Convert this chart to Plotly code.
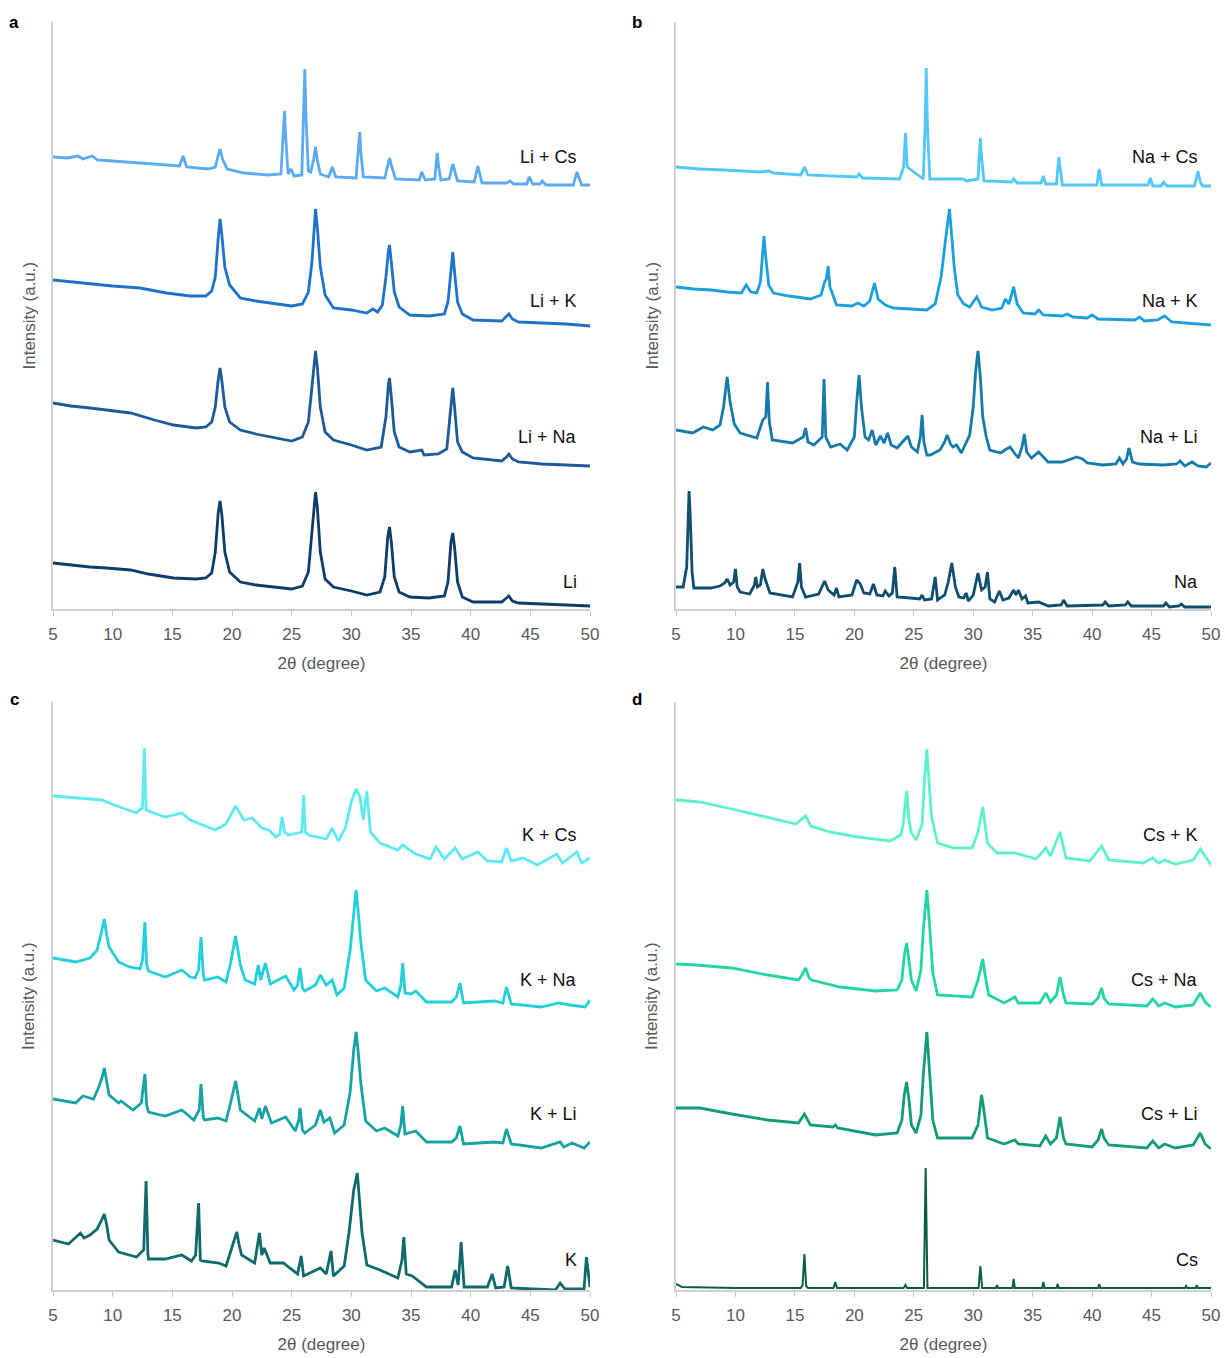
import plotly.graph_objects as go

W, H = 1225, 1358

# ---------------- Panel a (Li series) ----------------
a_licS_x = [5.0,6.2,7.1,7.5,8.3,8.7,10.0,12.0,14.0,15.6,15.9,16.2,18.0,18.6,18.85,19.0,19.2,19.6,21.0,23.0,24.1,24.3,24.4,24.5,24.7,24.95,25.2,25.85,26.0,26.1,26.2,26.4,26.6,26.85,27.0,27.15,27.4,28.1,28.4,28.7,30.4,30.6,30.7,30.8,31.0,32.8,33.05,33.2,33.4,33.7,35.7,35.9,36.2,37.0,37.1,37.2,37.3,37.5,38.2,38.5,38.9,40.3,40.6,40.95,43.0,43.3,43.6,44.7,44.9,45.2,45.8,46.0,46.3,48.6,48.9,49.3,50.0]
a_licS_y = [450,449,451,448,451,447,446,444,442,441,451,440,438,440,452,458,448,438,434,432,433,470,496,470,433,438,431,432,490,538,490,436,435,448,460,447,433,430,440,430,429,455,475,455,430,429,440,449,440,428,427,435,427,428,442,454,442,427,428,443,426,425,441,424,424,426,423,423,430,423,423,426,422,422,435,422,422]

a_lik_x = [5.0,6.5,8.0,10.0,12.3,14.5,16.5,17.8,18.3,18.6,18.85,19.0,19.15,19.4,19.8,20.7,22.0,23.4,25.0,25.9,26.4,26.7,26.9,27.0,27.15,27.4,27.8,28.5,30.0,31.3,31.8,32.2,32.6,32.9,33.1,33.2,33.35,33.6,34.0,34.9,36.5,37.8,38.1,38.35,38.5,38.65,38.9,39.3,40.2,42.6,43.0,43.2,43.5,44.0,46.0,48.0,50.0]
a_lik_y = [327,325,323,321,319,314,311,311,316,330,370,388,372,340,322,309,306,304,301,303,315,345,385,398,380,340,312,299,297,294,298,295,302,330,355,362,345,315,300,292,291,293,305,340,355,335,305,293,287,286,291,293,288,285,284,283,281]

a_lina_x = [5.0,6.5,8.1,9.5,11.5,13.5,15.1,17.0,17.8,18.3,18.6,18.85,19.0,19.15,19.4,19.8,20.7,22.0,23.4,25.0,25.9,26.4,26.7,26.9,27.0,27.15,27.4,27.8,28.5,30.0,31.3,32.5,32.9,33.1,33.2,33.35,33.6,34.0,34.9,35.9,36.1,37.3,38.0,38.3,38.5,38.65,38.9,39.3,40.2,42.6,43.0,43.2,43.5,44.0,46.0,48.0,50.0]
a_lina_y = [204,201,199,197,194,187,182,179,180,185,200,228,239,226,200,185,177,173,170,166,170,185,220,250,256,240,200,175,167,162,157,160,190,222,229,210,175,160,155,157,152,153,158,195,219,200,165,155,149,146,150,153,148,145,143,142,141]

a_li_x = [5.0,6.5,8.1,9.5,11.5,13.0,15.1,17.0,17.8,18.3,18.6,18.85,19.0,19.15,19.4,19.8,20.7,22.0,23.4,25.0,25.9,26.4,26.7,26.9,27.0,27.15,27.4,27.8,28.5,30.0,31.3,32.4,32.8,33.05,33.2,33.35,33.6,34.0,34.9,36.5,37.8,38.1,38.35,38.5,38.65,38.9,39.3,40.2,42.6,43.0,43.2,43.5,44.0,46.0,48.0,50.0]
a_li_y = [44,42,40,39,37,33,29,28,29,34,55,95,106,92,55,35,25,22,20,18,21,35,75,108,115,100,55,28,20,16,12,15,30,70,80,65,30,15,10,9,11,25,65,74,60,25,10,5,5,9,11,6,4,3,2,1]

# ---------------- Panel b (Na series) ----------------
b_nacs_x = [5.0,7.0,9.0,12.1,12.8,13.2,15.5,15.8,16.1,18.0,20.2,20.4,20.7,23.8,24.15,24.3,24.45,25.8,25.95,26.05,26.15,26.35,29.2,29.4,30.4,30.5,30.6,30.7,30.9,33.2,33.4,33.7,35.7,35.9,36.1,37.0,37.1,37.2,37.3,37.5,40.4,40.6,40.8,44.7,44.9,45.1,45.8,46.0,46.3,48.6,48.8,48.9,49.1,49.3,50.0]
b_nacs_y = [440,438,437,435,436,434,432,440,432,431,430,433,429,428,440,474,440,428,480,539,480,428,428,426,428,450,469,450,426,425,428,424,424,431,423,423,440,450,440,422,422,438,422,422,429,421,421,425,421,421,430,436,425,421,421]

b_nak_x = [5.0,6.5,8.0,9.3,10.5,10.9,11.3,11.8,12.1,12.3,12.4,12.55,12.8,13.2,14.5,16.3,17.2,17.5,17.65,17.8,17.95,18.5,19.8,20.3,20.5,20.8,21.3,21.7,22.0,22.6,23.3,25.0,26.1,26.8,27.3,27.7,28.0,28.2,28.4,28.7,29.2,29.7,30.3,30.7,31.6,32.4,32.7,33.0,33.4,33.7,34.2,35.2,35.5,35.9,37.5,37.9,38.4,39.6,40.0,40.5,43.6,44.0,44.4,45.5,46.1,46.7,48.5,50.0]
b_nak_y = [320,318,317,315,314,322,315,314,325,360,371,350,322,314,311,308,312,325,328,341,320,302,301,304,303,301,306,324,308,302,299,298,297,303,330,370,398,370,340,312,303,300,310,300,297,299,308,303,320,303,294,293,297,292,291,293,290,289,292,288,287,290,286,287,291,285,283,282]

b_nali_x = [5.0,6.4,7.3,8.1,8.7,9.0,9.3,9.55,9.9,10.4,11.8,12.3,12.55,12.7,12.85,13.1,14.8,15.7,15.9,16.1,16.6,17.3,17.45,17.6,18.0,18.8,19.4,20.0,20.2,20.4,20.6,20.9,21.2,21.5,21.8,22.2,22.5,22.8,23.1,23.6,24.5,24.8,25.3,25.55,25.7,25.85,26.1,26.4,27.2,27.6,27.8,28.1,28.3,28.6,29.0,29.7,30.0,30.2,30.4,30.6,30.8,31.1,31.4,32.3,32.8,33.1,33.4,33.8,34.1,34.3,34.5,34.9,35.5,36.3,37.5,38.7,39.2,39.6,40.9,42.0,42.3,42.6,42.9,43.1,43.4,44.0,46.0,47.1,47.4,47.8,48.4,48.9,49.6,50.0]
b_nali_y = [177,174,180,177,182,200,230,205,183,174,169,187,190,225,185,167,164,170,179,165,162,170,228,170,160,163,157,170,205,232,200,170,167,177,162,171,164,174,162,159,171,160,155,170,192,165,152,152,157,165,172,163,160,162,154,172,200,235,256,230,190,170,157,154,158,160,155,149,160,173,155,149,155,145,145,150,148,144,142,143,149,143,148,159,145,143,142,143,146,141,145,141,140,144]

b_na_x = [5.0,5.6,5.9,6.05,6.1,6.2,6.35,6.5,7.9,8.7,9.1,9.3,9.55,9.85,10.0,10.15,10.4,11.2,11.6,11.7,11.85,12.1,12.3,12.5,12.9,14.8,15.25,15.4,15.55,15.9,17.0,17.5,17.8,18.3,18.5,18.7,19.8,20.2,20.5,20.8,21.3,21.6,21.9,22.4,22.6,22.9,23.2,23.4,23.6,24.7,25.5,25.7,25.9,26.5,26.8,27.0,27.6,27.9,28.2,28.5,28.8,29.2,29.4,29.6,30.0,30.4,30.7,31.0,31.2,31.4,31.8,32.2,32.5,33.0,33.4,33.6,33.8,34.1,34.4,34.6,35.5,36.3,37.4,37.6,37.9,40.9,41.1,41.4,42.8,43.0,43.3,46.0,46.2,46.5,47.3,47.5,47.8,50.0]
b_na_y = [20,20,40,100,116,90,35,19,19,21,24,28,22,25,38,20,15,13,22,30,20,22,38,28,14,10,25,44,20,10,13,26,17,12,19,10,12,27,23,14,13,23,12,11,16,11,14,40,10,9,8,12,7,8,30,7,12,25,44,20,10,9,14,6,12,34,17,20,35,8,5,16,7,9,17,12,17,8,11,4,5,1,2,7,1,2,5,1,2,5,1,1,4,0,1,3,0,0]

# ---------------- Panel c (K series) ----------------
c_kcs_x = [5.0,6.9,9.1,9.9,12.0,12.35,12.5,12.65,12.8,13.0,14.4,15.8,16.5,18.6,19.5,20.3,21.0,21.7,22.5,23.1,23.7,24.0,24.2,24.4,24.7,25.6,25.85,26.0,26.15,26.4,27.9,28.4,28.9,29.5,30.0,30.4,30.7,31.0,31.3,31.6,32.4,33.9,34.3,35.4,36.6,37.1,37.8,38.7,39.3,40.6,41.4,42.6,43.0,43.4,44.4,45.6,47.2,47.7,48.9,49.3,50.0]
c_kcs_y = [494,492,490,486,477,481,482,542,480,479,473,477,470,460,466,484,470,472,462,460,453,456,473,458,455,457,458,495,458,455,451,462,449,462,488,501,494,470,499,458,447,440,445,436,431,443,431,442,431,438,429,428,442,429,432,425,436,427,438,427,432]

c_kna_x = [5.0,6.9,8.1,8.7,9.0,9.3,9.5,9.7,10.5,11.4,12.3,12.5,12.7,12.85,13.0,14.4,15.8,16.5,16.9,17.2,17.4,17.6,17.7,18.8,19.5,19.9,20.3,20.5,20.7,21.1,21.9,22.2,22.4,22.8,23.2,24.5,25.2,25.5,25.7,25.9,26.1,27.0,27.4,27.9,28.4,28.8,29.4,29.9,30.2,30.4,30.6,30.8,31.2,32.1,32.8,33.9,34.15,34.3,34.5,35.0,35.4,36.3,38.4,38.8,39.1,39.4,42.0,42.7,43.0,43.4,45.9,47.4,48.3,49.6,50.0]
c_kna_y = [332,328,332,340,355,371,355,343,328,323,321,330,368,325,319,313,320,313,312,320,353,315,310,313,308,328,354,340,325,310,306,325,310,327,306,314,300,305,322,302,299,305,315,305,310,295,302,340,380,400,375,347,310,299,302,293,305,327,297,296,299,288,288,293,307,287,289,287,303,286,283,287,285,283,290]

c_kli_x = [5.0,6.9,7.5,8.4,8.8,9.1,9.3,9.5,9.7,10.5,10.7,11.7,12.4,12.7,12.85,13.0,14.4,15.8,16.8,17.25,17.4,17.6,17.7,18.8,19.5,19.9,20.3,20.5,20.7,21.9,22.3,22.5,22.8,23.3,24.5,25.3,25.6,25.7,25.9,26.1,27.0,27.4,27.7,28.2,28.6,29.4,29.9,30.2,30.4,30.6,30.8,31.2,32.1,32.8,33.9,34.15,34.3,34.5,35.0,35.4,36.3,38.4,38.8,39.1,39.4,42.0,42.7,43.0,43.4,45.9,47.5,47.8,48.5,49.5,50.0]
c_kli_y = [191,187,194,191,202,212,222,210,195,187,189,180,187,216,185,178,174,180,170,180,206,172,170,172,169,188,209,195,180,169,182,171,184,167,173,159,170,182,160,157,165,180,168,172,157,165,198,240,258,235,206,169,159,162,154,165,184,156,158,159,148,148,152,164,146,148,147,161,146,142,148,143,147,142,148]

c_k_x = [5.0,6.3,7.3,7.6,8.1,8.7,9.0,9.3,9.5,9.7,10.5,12.0,12.6,12.8,12.95,13.0,14.4,15.8,16.6,16.95,17.2,17.35,17.5,18.9,19.5,20.0,20.4,20.6,20.8,21.9,22.1,22.3,22.5,22.7,23.2,24.3,25.5,25.8,26.0,27.4,27.9,28.3,28.5,29.4,29.8,30.2,30.5,30.7,30.9,31.3,32.4,33.9,34.25,34.4,34.6,35.1,36.3,38.4,38.7,38.95,39.2,39.45,41.4,41.8,42.1,42.8,43.1,43.4,47.1,47.5,47.9,49.5,49.7,50.0]
c_k_y = [50,46,57,52,55,61,68,76,65,50,38,33,40,109,36,31,31,35,29,35,87,30,29,27,24,42,58,45,35,27,40,57,35,42,27,27,16,34,14,22,16,39,14,24,57,100,117,85,57,25,20,12,30,53,16,14,3,3,20,5,48,3,3,16,2,3,24,2,0,7,1,1,33,3]

# ---------------- Panel d (Cs series) ----------------
d_csk_x = [5.0,7.0,9.7,12.7,15.1,15.9,16.35,17.9,20.3,23.0,23.9,24.1,24.4,24.6,24.8,25.2,25.7,25.9,26.1,26.3,26.5,27.0,28.4,29.9,30.4,30.8,31.2,32.0,33.5,35.3,36.1,36.5,37.3,37.8,39.8,40.8,41.4,44.3,45.1,45.6,46.1,47.0,48.5,49.1,50.0]
d_csk_y = [490,488,481,473,466,474,464,458,453,449,455,465,499,470,457,450,466,510,541,505,473,447,442,442,458,483,447,437,437,431,442,434,458,432,429,444,430,427,432,427,430,426,430,441,425]

d_csna_x = [5.0,6.7,9.7,12.7,15.3,15.6,15.9,16.2,16.4,18.8,21.8,23.6,24.0,24.2,24.4,24.6,24.8,25.2,25.6,25.8,26.1,26.3,26.6,27.0,29.9,30.4,30.8,31.0,31.3,32.6,33.5,33.8,35.6,36.1,36.5,37.0,37.3,37.6,37.8,40.0,40.5,40.8,41.0,41.4,44.6,45.1,45.6,46.1,47.0,48.5,49.1,49.5,50.0]
d_csna_y = [326,325,322,315,310,315,322,312,310,303,299,300,310,335,347,330,310,299,320,360,400,370,317,295,293,310,331,315,295,287,293,287,287,297,288,295,313,295,287,286,292,302,292,286,284,291,284,287,283,285,297,288,283]

d_csli_x = [5.0,7.0,9.7,12.7,15.3,15.8,16.3,18.2,18.4,18.6,21.8,23.6,24.0,24.2,24.4,24.6,24.8,25.2,25.6,25.8,26.1,26.3,26.6,27.0,29.9,30.4,30.7,30.9,31.2,32.6,33.5,33.8,35.6,36.1,36.5,37.0,37.3,37.6,37.8,40.0,40.5,40.8,41.0,41.4,44.6,45.1,45.6,46.1,47.0,48.5,49.1,49.5,50.0]
d_csli_y = [182,182,176,170,167,176,165,163,165,162,155,157,170,195,208,190,165,157,175,215,258,225,170,152,152,165,195,180,152,146,150,146,144,154,146,152,173,152,146,143,150,161,152,145,142,149,142,146,142,145,157,146,141]

d_cs_x = [5.0,5.5,10.0,15.5,15.65,15.8,15.95,16.1,18.25,18.4,18.55,24.15,24.3,24.45,25.85,26.0,26.15,30.45,30.6,30.75,31.9,32.0,32.1,33.3,33.4,33.5,35.8,35.9,36.0,37.0,37.1,37.2,40.5,40.6,40.7,47.8,47.9,48.0,48.7,48.8,48.9,50.0]
d_cs_y = [6,3,2,2,5,36,4,2,2,8,2,2,5,2,2,122,2,2,24,2,2,5,2,2,11,2,2,8,2,2,6,2,2,6,2,2,4,2,2,5,2,2]

# ---------------- labels / colours ----------------
tick_vals = [5, 10, 15, 20, 25, 30, 35, 40, 45, 50]
panel_letters = ["a", "b", "c", "d"]
x_title = "2θ (degree)"
y_title = "Intensity (a.u.)"

panels = [
    [("Li + Cs", a_licS_x, a_licS_y, "#5aabf2", 450),
     ("Li + K", a_lik_x, a_lik_y, "#1f72cc", 306),
     ("Li + Na", a_lina_x, a_lina_y, "#1c5a9a", 170),
     ("Li", a_li_x, a_li_y, "#0d3d6b", 25)],
    [("Na + Cs", b_nacs_x, b_nacs_y, "#52c8f8", 450),
     ("Na + K", b_nak_x, b_nak_y, "#1aa0dc", 306),
     ("Na + Li", b_nali_x, b_nali_y, "#167ba8", 170),
     ("Na", b_na_x, b_na_y, "#0f4e6e", 25)],
    [("K + Cs", c_kcs_x, c_kcs_y, "#5eeaf2", 455),
     ("K + Na", c_kna_x, c_kna_y, "#22d0dc", 310),
     ("K + Li", c_kli_x, c_kli_y, "#17a3a6", 176),
     ("K", c_k_x, c_k_y, "#0f6a6c", 30)],
    [("Cs + K", d_csk_x, d_csk_y, "#5ef2c8", 455),
     ("Cs + Na", d_csna_x, d_csna_y, "#22d6a2", 310),
     ("Cs + Li", d_csli_x, d_csli_y, "#149c78", 176),
     ("Cs", d_cs_x, d_cs_y, "#0b5c44", 30)],
]

# pixel geometry of each panel: (left, right, top, bottom)
geom = [(53, 590, 22, 609), (676, 1211, 22, 609), (53, 590, 702, 1290), (676, 1211, 702, 1290)]
yranges = [[-2, 585], [-2, 585], [0, 588], [0, 588]]
letter_pos = [(14, 22), (637, 22), (14, 700), (637, 700)]

fig = go.Figure()
FONT = "Liberation Sans, Arial, sans-serif"
layout = dict(width=W, height=H, margin=dict(l=0, r=0, t=0, b=0, autoexpand=False),
              paper_bgcolor="white", plot_bgcolor="white", showlegend=False)
annotations = []

for i, (series, (l, r, t, b)) in enumerate(zip(panels, geom)):
    n = "" if i == 0 else str(i + 1)
    xa, ya = "x" + n, "y" + n
    for name, xs, ys, col, ly in series:
        fig.add_trace(go.Scatter(x=xs, y=ys, mode="lines", name=name,
                                 line=dict(color=col, width=2.0 if name == "Cs" else 2.8),
                                 xaxis=xa, yaxis=ya, hoverinfo="skip"))
        annotations.append(dict(x=49.1, y=ly, xref=xa, yref=ya, text=name, showarrow=False,
                                xanchor="right", yanchor="middle",
                                font=dict(family=FONT, size=18, color="#111111")))
    layout["xaxis" + n] = dict(domain=[l / W, r / W], anchor=ya, range=[5, 50],
                               tickvals=tick_vals, ticks="outside", ticklen=5, tickcolor="#c8c8c8",
                               ticklabelstandoff=4, automargin=False,
                               showline=True, linecolor="#d0d0d0", linewidth=1.5,
                               showgrid=False, zeroline=False,
                               tickfont=dict(family=FONT, size=17, color="#595959"),
                               title=dict(text=x_title, standoff=14,
                                          font=dict(family=FONT, size=17, color="#595959")))
    layout["yaxis" + n] = dict(domain=[1 - b / H, 1 - t / H], anchor=xa, range=yranges[i],
                               showline=True, linecolor="#d0d0d0", linewidth=1.5, automargin=False,
                               showticklabels=False, ticks="", showgrid=False, zeroline=False)
    annotations.append(dict(x=(l - 24) / W, y=1 - (t + b) / 2 / H, xref="paper", yref="paper",
                            text=y_title, textangle=-90, showarrow=False,
                            xanchor="center", yanchor="middle",
                            font=dict(family=FONT, size=17, color="#595959")))
    lx, lyp = letter_pos[i]
    annotations.append(dict(x=lx / W, y=1 - lyp / H, xref="paper", yref="paper",
                            text="<b>" + panel_letters[i] + "</b>", showarrow=False,
                            xanchor="center", yanchor="middle",
                            font=dict(family=FONT, size=17, color="#000000")))

layout["annotations"] = annotations
fig.update_layout(**layout)
fig.write_html("out.html", config={"displayModeBar": False},
               post_script="document.body.style.margin='0';document.body.style.overflow='hidden';")
